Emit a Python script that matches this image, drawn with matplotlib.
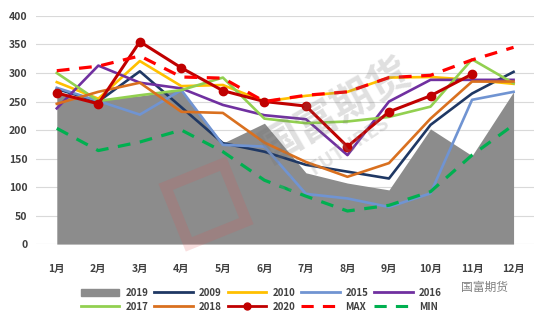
import matplotlib
matplotlib.use('Agg')
import matplotlib.pyplot as plt
from matplotlib.patches import Patch, Rectangle
from matplotlib.lines import Line2D
import matplotlib.transforms as mtransforms

plt.rcParams['font.family'] = ['Noto Sans CJK SC', 'DejaVu Sans']

months = ['1月', '2月', '3月', '4月', '5月', '6月', '7月', '8月', '9月', '10月', '11月', '12月']

y2019 = [265, 253, 260, 270, 177, 212, 125, 107, 95, 202, 155, 267]
y2009 = [272, 250, 303, 240, 177, 162, 139, 127, 115, 209, 264, 302]
y2010 = [284, 255, 321, 277, 279, 250, 260, 267, 292, 293, 288, 281]
y2015 = [274, 251, 227, 270, 174, 171, 88, 80, 65, 89, 253, 267]
y2016 = [238, 313, 283, 273, 244, 226, 219, 156, 250, 288, 288, 288]
y2017 = [300, 251, 261, 270, 292, 220, 212, 215, 223, 241, 324, 282]
y2018 = [246, 267, 283, 232, 230, 178, 144, 118, 142, 220, 285, 285]
y2020 = [265, 246, 355, 309, 269, 250, 242, 171, 232, 260, 298]
ymax = [304, 312, 330, 293, 291, 250, 261, 267, 292, 296, 323, 345]
ymin = [203, 164, 179, 200, 162, 112, 84, 58, 68, 92, 156, 209]

x = list(range(1, 13))

fig = plt.figure(figsize=(5.5, 3.33), dpi=100)
ax = fig.add_axes([0.0655, 0.267, 0.906, 0.685])

ax.fill_between(x, 0, y2019, color='#8c8c8c', lw=0, zorder=2)

lw = 1.9
ax.plot(x, y2009, color='#1f3864', lw=lw, zorder=3)
ax.plot(x, y2010, color='#ffc000', lw=lw, zorder=3)
ax.plot(x, y2015, color='#7094d2', lw=lw, zorder=3)
ax.plot(x, y2016, color='#7030a0', lw=lw, zorder=3)
ax.plot(x, y2017, color='#92d050', lw=lw, zorder=3)
ax.plot(x, y2018, color='#d9701f', lw=lw, zorder=3)
ax.plot(x[:len(y2020)], y2020, color='#c00000', lw=2.2, marker='o', ms=6, zorder=4)
ax.plot(x, ymax, color='#ff0000', lw=2.3, ls=(0, (4, 3)), zorder=4)
ax.plot(x, ymin, color='#00b050', lw=2.3, ls=(0, (4, 3)), zorder=4)

ax.set_xlim(0.5, 12.5)
ax.set_ylim(0, 400)
ax.set_yticks(range(0, 401, 50))
ax.set_xticks(x)
ax.set_xticklabels(months)
ax.yaxis.grid(True, color='#d9d9d9', lw=0.8, zorder=0)
ax.set_axisbelow(True)
for s in ax.spines.values():
    s.set_visible(False)
ax.tick_params(length=0, labelsize=7.5, colors='#404040', pad=6)
ax.tick_params(axis='x', pad=14)
for lab in ax.get_xticklabels() + ax.get_yticklabels():
    lab.set_fontweight('bold')

# faint company watermark: tilted square logo plus name
logo = Rectangle((175, 98), 62, 62, fill=False, ec='#e05050', lw=8, alpha=0.18, zorder=5)
logo.set_transform(mtransforms.Affine2D().rotate_deg_around(206, 129, 22))
fig.add_artist(logo)
fig.text(0.61, 0.67, '国富期货', fontsize=30, fontweight='bold', color='#707070',
         alpha=0.22, rotation=30, ha='center', va='center', zorder=5)
fig.text(0.58, 0.50, 'GUOFU FUTURES', fontsize=14, fontweight='bold', color='#909090',
         alpha=0.25, rotation=33, ha='center', va='center', zorder=5)

handles = [
    Patch(color='#8c8c8c'),
    Line2D([], [], color='#1f3864', lw=2),
    Line2D([], [], color='#ffc000', lw=2),
    Line2D([], [], color='#7094d2', lw=2),
    Line2D([], [], color='#7030a0', lw=2),
    Line2D([], [], color='#92d050', lw=2),
    Line2D([], [], color='#d9701f', lw=2),
    Line2D([], [], color='#c00000', lw=2, marker='o', ms=5),
    Line2D([], [], color='#ff0000', lw=2.2, ls=(0, (4, 3))),
    Line2D([], [], color='#00b050', lw=2.2, ls=(0, (4, 3))),
]
labels = ['2019', '2009', '2010', '2015', '2016', '2017', '2018', '2020', 'MAX', 'MIN']
# legend fills column by column, so interleave the two rows
order = [0, 5, 1, 6, 2, 7, 3, 8, 4, 9]
leg = fig.legend([handles[i] for i in order], [labels[i] for i in order], ncol=5,
                 loc='center', bbox_to_anchor=(0.475, 0.10), frameon=False,
                 prop={'size': 7, 'weight': 'bold'}, handlelength=4.0,
                 handletextpad=0.6, columnspacing=0.6, labelspacing=0.45)
for t in leg.get_texts():
    t.set_color('#404040')

fig.text(0.88, 0.137, '国富期货', fontsize=8.5, color='#808080', ha='center', va='center')

fig.savefig('out.png', dpi=100)
